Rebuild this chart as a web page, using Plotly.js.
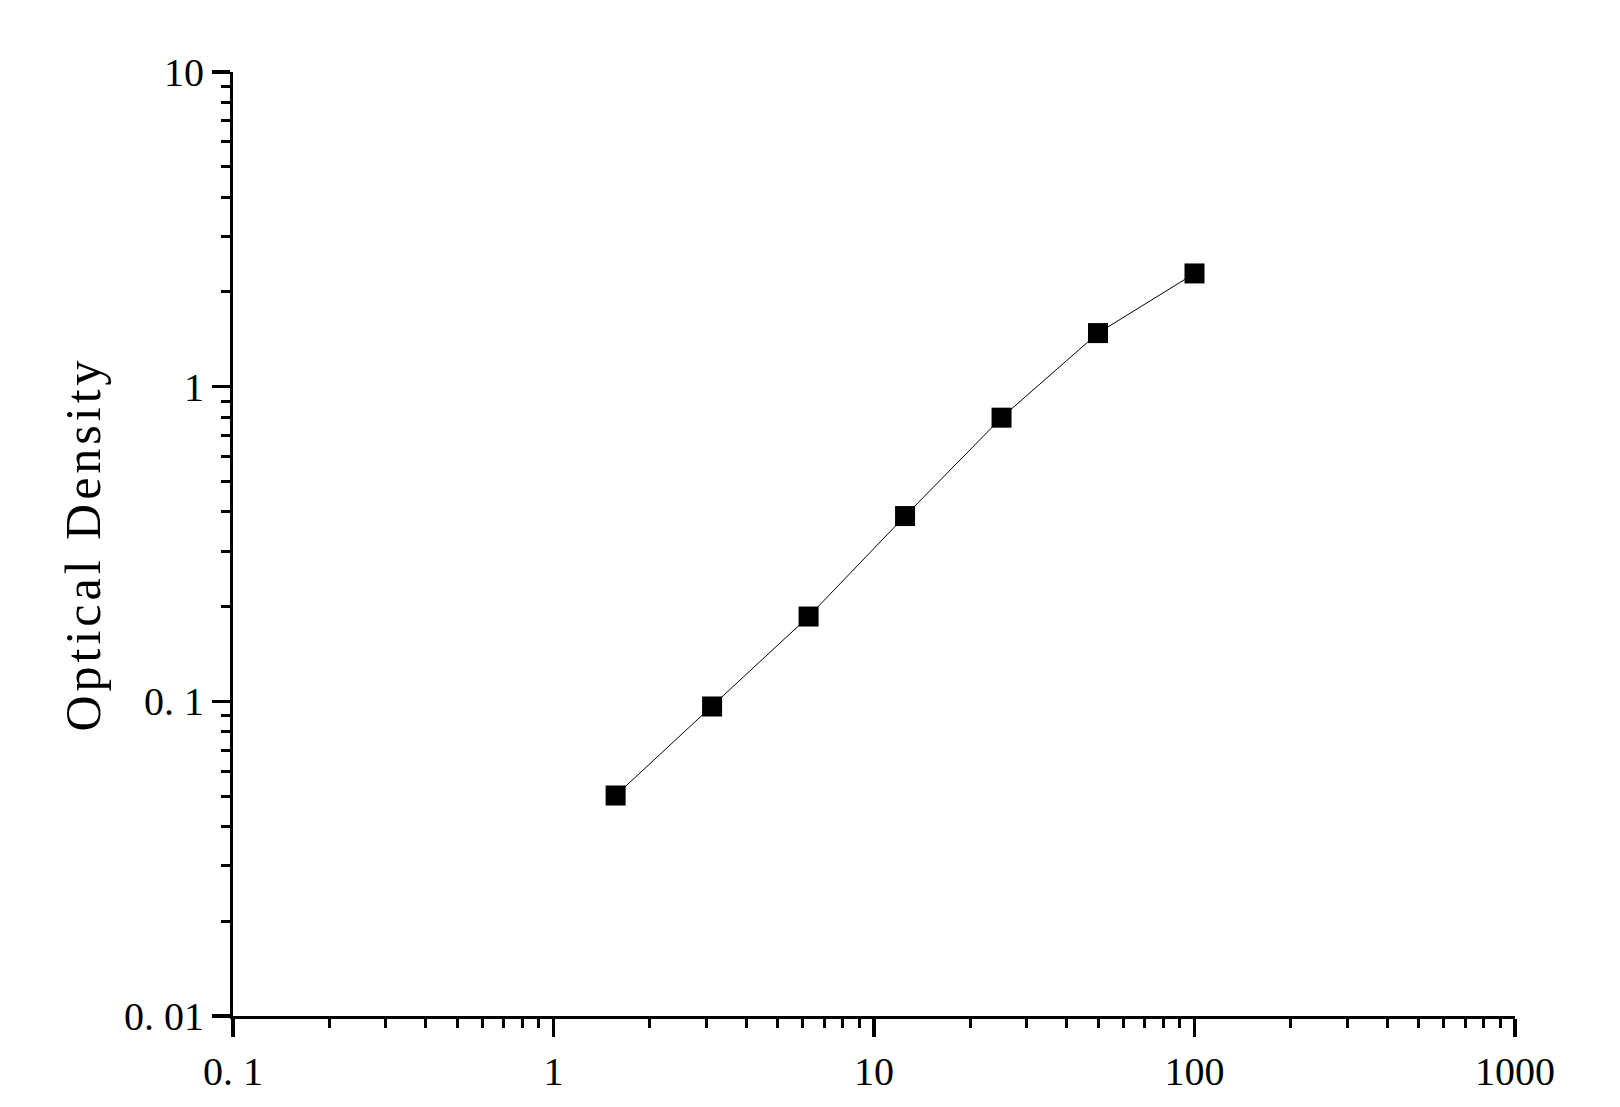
<!DOCTYPE html>
<html>
<head>
<meta charset="utf-8">
<script src="https://cdn.plot.ly/plotly-3.0.1.min.js"></script>
<style>
  body { margin: 0; background: #fff; }
  #chart { width: 1620px; height: 1107px; }
  /* the original axis title is set wide, like a monospaced face */
  #chart .ytitle { letter-spacing: 4px; }
</style>
</head>
<body>
<div id="chart"></div>
<script>
// standard curve: concentration vs OD
var conc = [1.5625, 3.125, 6.25, 12.5, 25, 50, 100];
var od = [0.0502, 0.0963, 0.186, 0.388, 0.797, 1.48, 2.29];

var xTickVals = [0.1, 1, 10, 100, 1000];
var xTickText = ['0. 1', '1', '10', '100', '1000'];
var yTickVals = [0.01, 0.1, 1, 10];
var yTickText = ['0. 01', '0. 1', '1', '10'];

// minor ticks at 2..9 of each decade
function minorTicks(lo, hi) {
  var out = [];
  for (var d = lo; d < hi; d++) {
    for (var k = 2; k <= 9; k++) out.push(k * Math.pow(10, d));
  }
  return out;
}

var trace = {
  x: conc,
  y: od,
  type: 'scatter',
  mode: 'lines+markers',
  line: { color: '#000', width: 1 },
  marker: { symbol: 'square', size: 20, color: '#000' },
  hoverinfo: 'skip'
};

var tickFont = { family: 'Liberation Serif, Times New Roman, serif', size: 40, color: '#000' };

var layout = {
  width: 1620,
  height: 1107,
  paper_bgcolor: '#fff',
  plot_bgcolor: '#fff',
  showlegend: false,
  margin: { l: 233, r: 105, t: 72, b: 91 },
  xaxis: {
    type: 'log',
    range: [-1, 3],
    showgrid: false,
    zeroline: false,
    showline: true,
    linecolor: '#000',
    linewidth: 3,
    ticks: 'outside',
    ticklen: 18,
    tickwidth: 3.5,
    tickcolor: '#000',
    tickmode: 'array',
    tickvals: xTickVals,
    ticktext: xTickText,
    tickfont: tickFont,
    minor: {
      tickmode: 'array',
      tickvals: minorTicks(-1, 3),
      ticks: 'outside',
      ticklen: 9,
      tickwidth: 3,
      tickcolor: '#000',
      showgrid: false
    }
  },
  yaxis: {
    type: 'log',
    range: [-2, 1],
    showgrid: false,
    zeroline: false,
    showline: true,
    linecolor: '#000',
    linewidth: 3,
    ticks: 'outside',
    ticklen: 18,
    tickwidth: 3.5,
    tickcolor: '#000',
    tickmode: 'array',
    tickvals: yTickVals,
    ticktext: yTickText,
    tickfont: tickFont,
    minor: {
      tickmode: 'array',
      tickvals: minorTicks(-2, 1),
      ticks: 'outside',
      ticklen: 9,
      tickwidth: 3,
      tickcolor: '#000',
      showgrid: false
    },
    title: {
      text: 'Optical Density',
      font: { family: 'Liberation Serif, Times New Roman, serif', size: 50, color: '#000' },
      standoff: 8
    }
  }
};

Plotly.newPlot('chart', [trace], layout, { staticPlot: true });
</script>
</body>
</html>
